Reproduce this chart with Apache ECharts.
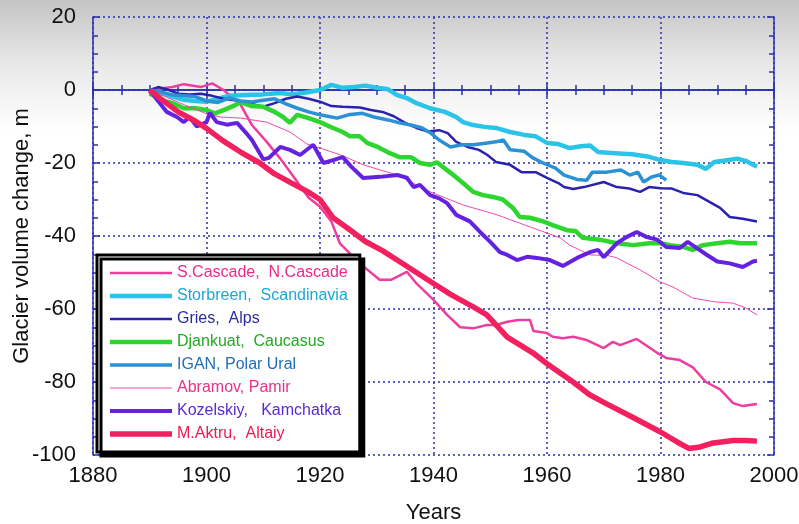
<!DOCTYPE html>
<html>
<head>
<meta charset="utf-8">
<title>Glacier volume change</title>
<script src="https://cdn.jsdelivr.net/npm/echarts@6.0.0/dist/echarts.min.js"></script>
<style>
  html, body { margin: 0; padding: 0; background: #fff; }
  #chart { width: 799px; height: 524px; }
</style>
</head>
<body>
<div id="chart"></div>
<script>
// values, [year, m]
const sCascade = [[1890,0],[1894,0.8],[1896,1.6],[1899,0.8],[1901,1.8],[1903,0],[1906,-4],[1908,-9.6],[1910.5,-14],[1913,-18.8],[1915,-23],[1918,-29.5],[1920,-32],[1922,-36],[1923.5,-42],[1927,-47.5],[1930.5,-52],[1932.5,-52],[1935.3,-49.8],[1937,-53],[1940,-57.5],[1942.4,-61.6],[1944.7,-65],[1947,-65.3],[1949.4,-64.4],[1951,-64.4],[1953,-63.5],[1955,-63],[1957,-63],[1957.6,-66],[1960,-66.6],[1961,-67.6],[1962.8,-68],[1964.6,-67.6],[1967,-68.5],[1970,-70.7],[1971.6,-69],[1972.9,-69.9],[1975.8,-68.2],[1979.4,-72],[1981,-73.4],[1983.4,-74],[1985.7,-76],[1988,-80],[1990.5,-82],[1992.8,-85.8],[1994.5,-86.6],[1997,-86]]
const storbreen = [[1890,0],[1892,-0.8],[1894,-1.8],[1896,-2.7],[1898,-3],[1900,-3.2],[1902,-2.4],[1904,-1.6],[1907,-1.4],[1910,-1.2],[1913,-0.8],[1915,-1.2],[1917,-0.8],[1920,0],[1922,1.4],[1924,0.6],[1926,0.8],[1928,1.2],[1930,0.6],[1932,0.2],[1933.6,-1.4],[1935.3,-2.2],[1937,-3.6],[1939.4,-5],[1942,-6],[1944,-7.4],[1945.2,-8.8],[1947,-9.6],[1949,-10.1],[1951,-10.4],[1953.5,-11.5],[1956,-12.3],[1958,-12.7],[1960,-14.5],[1962,-14.8],[1964,-15.9],[1966,-15.4],[1967.6,-15.2],[1969,-17],[1972,-17.3],[1975,-17.6],[1978,-18.3],[1980,-19.2],[1982,-19.7],[1984,-20],[1986.5,-20.5],[1988,-21.6],[1989.5,-19.7],[1992,-19.2],[1993.5,-18.8],[1995,-19.4],[1997,-21]]
const gries = [[1890,0],[1891.5,0.8],[1893,0.2],[1895,-1],[1897,-1.2],[1899,-1],[1901,-1.6],[1903,-2.4],[1905,-2.8],[1908,-3.8],[1910,-4.6],[1912,-3.6],[1914,-2.4],[1916,-1.8],[1918,-2.4],[1920,-3.2],[1922,-4.4],[1924,-4.6],[1927,-4.8],[1929,-5.5],[1931,-6],[1933,-7.2],[1935,-9],[1937,-10.4],[1939,-11.4],[1941,-11],[1942.5,-11.8],[1944,-14.2],[1946,-15.6],[1948,-16.4],[1949.5,-17.8],[1951,-19.7],[1953.5,-20.5],[1955.5,-22.5],[1958,-22.5],[1960,-24.1],[1962,-25.5],[1963,-26.6],[1964.6,-27.1],[1966.5,-26.6],[1970,-25.2],[1972.3,-26.6],[1974.5,-27],[1976.4,-27.9],[1978,-26.6],[1980,-26.9],[1982,-27],[1984,-28.2],[1986.5,-28.8],[1988.7,-30.7],[1990.5,-32.3],[1992.2,-34.8],[1994.5,-35.3],[1997,-36]]
const djankuat = [[1890,-1],[1892,-2.7],[1894,-3.6],[1896,-5],[1898,-5],[1900,-5.5],[1901.5,-6.4],[1903,-5.5],[1905,-4.2],[1906,-3.3],[1908,-4.4],[1910,-4.6],[1912,-6],[1913.5,-7.4],[1914.7,-9],[1916,-6.8],[1918,-7.7],[1920,-8.8],[1922,-10.2],[1924,-11.5],[1925.3,-12.7],[1927,-12.7],[1928.3,-14.5],[1930,-15.5],[1932.3,-17.3],[1934,-18.4],[1936,-18.4],[1937.6,-20],[1939.4,-20.5],[1940.6,-19.8],[1943,-22.7],[1945.2,-25.5],[1947,-27.9],[1948.7,-28.8],[1950.5,-29.3],[1952.2,-30],[1954,-32.3],[1955.2,-34.8],[1957,-35],[1959.3,-36],[1961,-37],[1963.5,-38.4],[1965,-38.6],[1966.3,-40.5],[1969.3,-41],[1972.3,-42],[1975.2,-42.5],[1978,-42],[1980,-42],[1981.7,-42.5],[1984,-43],[1985.7,-43.8],[1987.5,-42.5],[1990,-42],[1992.2,-41.6],[1994,-42],[1997,-42]]
const igan = [[1890,0],[1892,-0.5],[1894,-1.4],[1896,-1.6],[1898,-1.8],[1900,-3],[1902,-3.4],[1904,-2.2],[1906,-3],[1908,-3.3],[1910,-2.8],[1912,-2.4],[1914,-3.8],[1916,-5],[1918,-6],[1920,-6.8],[1923,-7.7],[1925,-6.8],[1927.5,-6.4],[1929.5,-7.4],[1932,-8.2],[1934,-9],[1936,-9.6],[1938,-10.4],[1939.5,-11.8],[1941,-13.7],[1943,-15.6],[1945,-15],[1947,-15],[1949.5,-14.5],[1951,-14.2],[1952.3,-13.7],[1953.5,-16.4],[1956,-16.8],[1957.5,-18.6],[1959.3,-20],[1961.5,-21.4],[1963,-23.3],[1965.3,-24.5],[1967,-24.7],[1968,-22.5],[1970.5,-22.5],[1973,-21.9],[1974.6,-23.3],[1976,-22.5],[1977,-25.2],[1978.5,-23.8],[1979.8,-23.3],[1981,-24.7]]
const abramov = [[1890,0],[1893,-2],[1896,-4],[1900,-6.5],[1902.4,-7.4],[1906,-7.7],[1910.6,-8.8],[1914.7,-11.5],[1917.7,-14.8],[1921,-16.4],[1924,-18],[1927.6,-20.5],[1933.6,-23.3],[1939.4,-27.9],[1945.2,-31.5],[1951.2,-34.2],[1957,-37.5],[1962.3,-40.5],[1964,-42.5],[1967.6,-45.2],[1970.6,-45.3],[1972.3,-46],[1976.4,-49.3],[1980,-52.6],[1982.2,-54],[1985.7,-57],[1989.3,-58],[1992.8,-58.4],[1995,-59.7],[1997,-61.6]]
const kozelskiy = [[1890,0],[1891.3,-2.7],[1893,-6],[1894.8,-7.4],[1896,-8.8],[1897,-7.4],[1898.3,-10],[1900,-8.8],[1900.6,-6.3],[1901.8,-8.8],[1903.6,-9.5],[1905.4,-9],[1907,-11.8],[1908,-13.7],[1910,-19],[1911,-18.6],[1913,-15.6],[1914.7,-16.4],[1916.5,-17.8],[1918.8,-15],[1920.6,-20],[1922.3,-19.2],[1924,-18.4],[1925.5,-21],[1927.6,-24.1],[1930.6,-23.8],[1933.6,-23.3],[1935.3,-24],[1936.5,-26.6],[1937.6,-26],[1939.4,-28.8],[1941,-29.7],[1942.4,-31],[1944,-34.2],[1946.4,-36],[1948.2,-38.9],[1950,-41.6],[1951.7,-44.4],[1953,-45.2],[1954.7,-46.6],[1956.5,-45.7],[1958.2,-46],[1960.5,-46.6],[1962.8,-48.2],[1965.3,-46],[1967.6,-44.4],[1969,-43.8],[1970,-45.8],[1972.3,-42],[1974,-40.3],[1975.8,-38.9],[1977.6,-40.3],[1979.4,-41],[1981,-43],[1983.4,-43.3],[1984.8,-41.6],[1986.4,-43.3],[1988.2,-45.2],[1990,-47],[1992.2,-47.5],[1994.5,-48.5],[1996.3,-47],[1997,-46.8]]
const mAktru = [[1890,0],[1892,-2.5],[1895,-6],[1898,-8.5],[1900,-10.5],[1903,-14],[1906,-17],[1909.4,-20],[1912,-23],[1915,-25.5],[1918,-28],[1920,-30],[1922.3,-35],[1925,-38],[1928,-41.5],[1931,-44],[1934,-47],[1937,-50],[1940,-53],[1943,-56],[1947,-59.4],[1949.4,-61.6],[1953,-67.7],[1957.5,-72],[1960,-75],[1964.6,-80],[1967.5,-83.5],[1970.5,-86],[1975,-89.6],[1980,-93.7],[1983,-96.5],[1985,-98.2],[1987,-97.8],[1989,-96.8],[1992.8,-96],[1995,-96],[1997,-96.2]]

const names = ['S.Cascade,  N.Cascade', 'Storbreen,  Scandinavia', 'Gries,  Alps', 'Djankuat,  Caucasus', 'IGAN, Polar Ural', 'Abramov, Pamir', 'Kozelskiy,   Kamchatka', 'M.Aktru,  Altaiy']
const seriesData = [sCascade, storbreen, gries, djankuat, igan, abramov, kozelskiy, mAktru]

;(function () {
  glacierChart()
})()

function glacierChart() {
  let chart = echarts.init(document.getElementById('chart'))
  // line colour, legend text colour, width
  let styles = [
    ['#ee3d9e', '#ec2a8c', 2.5],
    ['#2cc3e8', '#1ea6d2', 4.5],
    ['#2a22ae', '#2a2aa0', 2.5],
    ['#2ed52e', '#22aa22', 4.5],
    ['#2a92d4', '#1f6fb8', 3.5],
    ['#f04ab2', '#e8308c', 1],
    ['#6422e0', '#5a2ad0', 4],
    ['#f2205e', '#ee1a50', 5.5],
  ]
  let axisBlue = '#2a30b0'
  let labelFont = { fontFamily: 'Liberation Sans', fontSize: 22, color: '#111' }

  let series = seriesData.map((d, i) => ({
    name: names[i],
    type: 'line',
    data: d,
    symbol: 'none',
    lineStyle: { color: styles[i][0], width: styles[i][2] },
    itemStyle: { color: styles[i][0] },
    z: 3,
  }))

  let xBase = {
    type: 'value',
    min: 1880,
    max: 2000,
    interval: 20,
    axisLine: { lineStyle: { color: axisBlue, width: 1.5 } },
    axisTick: { inside: true, length: 7, lineStyle: { color: axisBlue, width: 1.5 } },
    minorTick: { show: true, splitNumber: 4, length: 5, lineStyle: { color: axisBlue, width: 1.5 } },
  }
  let yBase = {
    type: 'value',
    min: -100,
    max: 20,
    interval: 20,
    axisLine: { onZero: false, lineStyle: { color: axisBlue, width: 1.5 } },
    axisTick: { inside: true, length: 7, lineStyle: { color: axisBlue, width: 1.5 } },
    minorTick: { show: true, splitNumber: 4, length: 5, lineStyle: { color: axisBlue, width: 1.5 } },
  }

  let option = {
    animation: false,
    backgroundColor: new echarts.graphic.LinearGradient(0, 0, 0, 1, [
      { offset: 0, color: '#c4c4c4' },
      { offset: 0.12, color: '#e8e8e8' },
      { offset: 0.25, color: '#ffffff' },
      { offset: 1, color: '#ffffff' },
    ]),
    grid: { left: 93, right: 25, top: 17, bottom: 69, outerBoundsMode: 'none' },
    legend: {
      orient: 'vertical',
      left: 97,
      top: 255,
      padding: [10, 12, 10, 13],
      itemGap: 7,
      itemWidth: 62,
      itemHeight: 14,
      backgroundColor: '#fff',
      borderColor: '#000',
      borderWidth: 3,
      shadowColor: '#000',
      shadowBlur: 0,
      shadowOffsetX: 4,
      shadowOffsetY: 4,
      textStyle: { fontFamily: 'Liberation Sans', fontSize: 16, lineHeight: 16 },
      // plain bar icon as thick as each line
      data: names.map((n, i) => ({
        name: n,
        icon: 'path://M0,0h62v' + styles[i][2] + 'h-62z',
        textStyle: { color: styles[i][1] },
      })),
    },
    xAxis: [
      Object.assign({}, xBase, {
        position: 'bottom',
        name: 'Years',
        nameLocation: 'middle',
        nameGap: 47,
        nameTextStyle: { fontFamily: 'Liberation Sans', fontSize: 22, color: '#111' },
        axisLabel: Object.assign({ margin: 10, formatter: v => String(v) }, labelFont),
        splitLine: { show: true, lineStyle: { color: axisBlue, width: 1.5, type: [2, 3] } },
      }),
      Object.assign({}, xBase, {
        position: 'top',
        axisLabel: { show: false },
        splitLine: { show: false },
      }),
    ],
    yAxis: [
      Object.assign({}, yBase, {
        position: 'left',
        name: 'Glacier volume change, m',
        nameLocation: 'middle',
        nameGap: 60,
        nameMoveOverlap: false,
        nameTextStyle: { fontFamily: 'Liberation Sans', fontSize: 22, color: '#111' },
        axisLabel: Object.assign({ margin: 17 }, labelFont),
        splitLine: { show: true, lineStyle: { color: axisBlue, width: 1.5, type: [2, 3] } },
      }),
      Object.assign({}, yBase, {
        position: 'right',
        axisLabel: { show: false },
        splitLine: { show: false },
      }),
    ],
    series: series,
  }
  chart.setOption(option)
}
</script>
</body>
</html>
